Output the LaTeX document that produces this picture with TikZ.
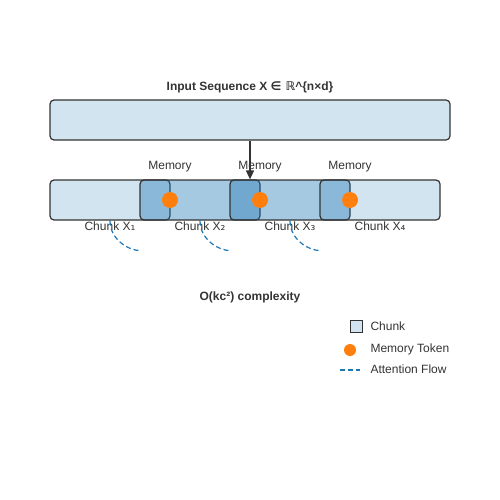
\documentclass[tikz,border=0pt]{standalone}
\usepackage{fontspec}
\setmainfont{Liberation Sans}
\newfontfamily\symfont{DejaVu Sans}
\usepackage{tikz}
\usetikzlibrary{arrows.meta,positioning,calc}
\usepackage{xcolor}
\definecolor{chunkblue}{HTML}{1F77B4}
\definecolor{memorange}{HTML}{FF7F0E}
\definecolor{edgegray}{HTML}{333333}
\definecolor{textgray}{HTML}{333333}

\begin{document}
\begin{tikzpicture}[
    x=1pt, y=-1pt,
    every node/.style={font=\fontsize{12}{14}\selectfont, text=textgray},
    seqbox/.style={
        rectangle,
        draw=edgegray,
        line width=1.2pt,
        rounded corners=4pt,
        fill=chunkblue,
        fill opacity=0.2,
        text opacity=1,
        minimum width=400pt,
        minimum height=40pt
    },
    chunk/.style={
        rectangle,
        draw=edgegray,
        line width=1.2pt,
        rounded corners=4pt,
        fill=chunkblue,
        fill opacity=#1,
        minimum width=120pt,
        minimum height=40pt
    },
    memdot/.style={
        circle,
        fill=memorange,
        inner sep=0pt,
        minimum size=16pt
    },
    flow/.style={
        chunkblue,
        line width=1.2pt,
        dash pattern=on 5pt off 3pt
    }
]
\useasboundingbox (0,0) rectangle (500,500);

% Input sequence
\node[seqbox] (input) at (250,120) {};
\node[font=\fontsize{12}{14}\selectfont\bfseries, above=3pt of input] (title)
    {Input Sequence X {\symfont∈ ℝ}\^{}\{n×d\}};

% Overlapping chunks
\node[chunk=0.2] (chunk1) at (110,200) {};
\node[chunk=0.4] (chunk2) at (200,200) {};
\node[chunk=0.4] (chunk3) at (290,200) {};
\node[chunk=0.2] (chunk4) at (380,200) {};

% Arrow into chunk row
\draw[-{Triangle[length=9pt,width=8pt]}, edgegray, line width=1.4pt] (input.south) -- (input.south |- chunk3.north);

% Memory tokens at chunk borders
\foreach \i/\x in {1/170, 2/260, 3/350} {
    \node[memdot] (mem\i) at (\x,200) {};
    \node at (\x,167) (memlab\i) {Memory};
}

% Chunk labels
\foreach \i in {1,2,3,4} {
    \node[anchor=center] (lab\i) at ($(chunk\i.south)+(0,6)$) {Chunk X{\symfont\ifcase\i\or ₁\or ₂\or ₃\or ₄\fi}};
}

% Attention flow between chunks
\foreach \i in {1,2,3} {
    \coordinate (fs\i) at (chunk\i.south);
    \coordinate (fe\i) at ($(chunk\i.south)+(30,30)$);
    \draw[flow] (fs\i) .. controls ($(fs\i)+(0,20)$) and ($(fe\i)+(-10,0)$) .. (fe\i);
}

% Complexity
\node[font=\fontsize{12}{14}\selectfont\bfseries] (cplx) at (250,297) {O(kc²) complexity};

% Legend
\node[draw=edgegray, line width=1pt, fill=chunkblue!20, minimum size=12pt, inner sep=0pt] (legchunk) at (356,326) {};
\node[anchor=west] (legchunktxt) at (367,326) {Chunk};
\node[memdot, minimum size=12pt] (legmem) at (350,350) {};
\node[anchor=west] (legmemtxt) at (367,349) {Memory Token};
\coordinate (lf1) at (340,370);
\coordinate (lf2) at (360,370);
\draw[flow] (lf1) -- (lf2);
\node[anchor=west] (legflowtxt) at (367,369) {Attention Flow};

\end{tikzpicture}
\end{document}
